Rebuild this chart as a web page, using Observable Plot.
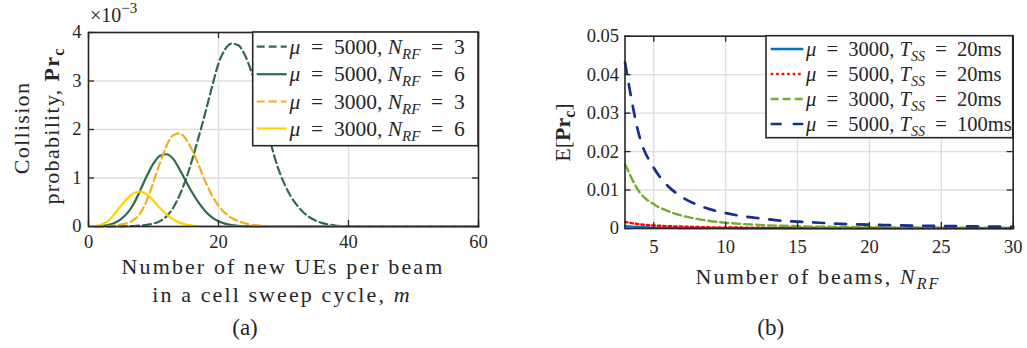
<!DOCTYPE html>
<html><head><meta charset="utf-8">
<script src="https://cdn.jsdelivr.net/npm/d3@7"></script>
<script src="https://cdn.jsdelivr.net/npm/@observablehq/plot@0.6"></script>
<style>
body{margin:0;background:#fff;}
#wrap{position:relative;width:1027px;height:348px;overflow:hidden;background:#fff;}
#wrap svg{position:absolute;top:0;}
</style></head><body><div id="wrap"></div>
<script>
// ---------- data: panel (a) ----------
const mValues = d3.range(1, 61); // number of new UEs per beam, m
// collision probability in units of 1e-3
const mu5000N3 = [0,0,0,0.001,0.002,0.005,0.01,0.02,0.035,0.06,0.11,0.21,0.38,0.64,0.98,1.40,1.87,2.36,2.88,3.36,3.65,3.77,3.74,3.55,3.22,2.80,2.28,1.74,1.27,0.92,0.65,0.45,0.30,0.19,0.12,0.07,0.04,0.02,0.01,0.005,0.002,0,0,0,0,0,0,0,0,0,0,0,0,0,0,0,0,0,0,0];
const mu5000N6 = [0.003,0.01,0.03,0.07,0.15,0.28,0.48,0.76,1.05,1.30,1.46,1.49,1.40,1.18,0.93,0.69,0.48,0.31,0.19,0.11,0.06,0.03,0.015,0.007,0.003,0.001,0,0,0,0,0,0,0,0,0,0,0,0,0,0,0,0,0,0,0,0,0,0,0,0,0,0,0,0,0,0,0,0,0,0];
const mu3000N3 = [0,0.003,0.008,0.02,0.045,0.07,0.14,0.28,0.55,0.92,1.31,1.66,1.88,1.92,1.80,1.56,1.25,0.92,0.64,0.43,0.28,0.18,0.11,0.07,0.04,0.025,0.015,0.008,0.004,0.002,0,0,0,0,0,0,0,0,0,0,0,0,0,0,0,0,0,0,0,0,0,0,0,0,0,0,0,0,0,0];
const mu3000N6 = [0.01,0.04,0.11,0.26,0.43,0.58,0.69,0.72,0.66,0.53,0.38,0.25,0.15,0.08,0.04,0.02,0.01,0.004,0.002,0,0,0,0,0,0,0,0,0,0,0,0,0,0,0,0,0,0,0,0,0,0,0,0,0,0,0,0,0,0,0,0,0,0,0,0,0,0,0,0,0];
const xTicksA = [0, 20, 40, 60];
const yTicksA = [0, 1, 2, 3, 4];

// ---------- data: panel (b) ----------
const beams = d3.range(3, 31); // N_RF
const mu3000T20a = [0.0006,0.0004,0.0002,0.0002,0.0001,0.0001,0.0001,0.0001,0.00008,0.00007,0.00006,0.00005,0.00005,0.00004,0.00004,0.00004,0.00003,0.00003,0.00003,0.00003,0.00003,0.00002,0.00002,0.00002,0.00002,0.00002,0.00002,0.00002];
const mu5000T20 = [0.0017,0.0011,0.0008,0.0006,0.0005,0.0004,0.0003,0.0003,0.00025,0.0002,0.0002,0.0002,0.00018,0.00016,0.00015,0.00014,0.00013,0.00012,0.00011,0.0001,0.0001,0.0001,0.0001,0.0001,0.0001,0.0001,0.0001,0.0001];
const mu3000T20b = [0.0168,0.0095,0.0063,0.0045,0.0033,0.0025,0.0019,0.0015,0.0012,0.0010,0.0008,0.0007,0.0006,0.0005,0.00045,0.0004,0.00037,0.00034,0.00031,0.00029,0.00027,0.00025,0.00024,0.00023,0.00022,0.00021,0.0002,0.0002];
const mu5000T100 = [0.0432,0.0240,0.0158,0.0110,0.0081,0.0062,0.0049,0.0040,0.0033,0.0028,0.0024,0.0020,0.0018,0.0016,0.0014,0.0012,0.0011,0.0010,0.0009,0.0008,0.00075,0.0007,0.00065,0.0006,0.00055,0.0005,0.00048,0.00045];
const xTicksB = [5, 10, 15, 20, 25, 30];
const yTicksB = [0, 0.01, 0.02, 0.03, 0.04, 0.05];

// ---------- style ----------
const FONT = "Liberation Serif, LiberationSerif, Tinos, Times New Roman, Times, Nimbus Roman, FreeSerif, DejaVu Serif, serif";
const INK = "#262626";
const GRID = "#dedede";
const TICK_FS = 18.5;
const TITLE_FS = 22;

const seriesA = [
  {values: mu5000N3, color: "#2f6b4b", dash: "8,4", width: 2.2, mu: "5000", n: "3"},
  {values: mu5000N6, color: "#2f6b4b", dash: null, width: 2.2, mu: "5000", n: "6"},
  {values: mu3000N3, color: "#edb120", dash: "8,4", width: 2.2, mu: "3000", n: "3"},
  {values: mu3000N6, color: "#ffd200", dash: null, width: 2.2, mu: "3000", n: "6"}
];
const seriesB = [
  {values: mu3000T20a, color: "#0072bd", dash: null, width: 2.4, mu: "3000", t: "20ms"},
  {values: mu5000T20, color: "#ff0000", dash: "2.5,3", width: 2.4, mu: "5000", t: "20ms"},
  {values: mu3000T20b, color: "#77ac30", dash: "8,4", width: 2.4, mu: "3000", t: "20ms"},
  {values: mu5000T100, color: "#172f8e", dash: "11,11", width: 2.7, mu: "5000", t: "100ms"}
];

function frameMarks(xt, yt, innerW, innerH) {
  return [
    Plot.tickX(xt, {x: d => d, stroke: INK, strokeWidth: 1.3, insetTop: innerH - 6}),
    Plot.tickX(xt, {x: d => d, stroke: INK, strokeWidth: 1.3, insetBottom: innerH - 6}),
    Plot.tickY(yt, {y: d => d, stroke: INK, strokeWidth: 1.3, insetRight: innerW - 6}),
    Plot.tickY(yt, {y: d => d, stroke: INK, strokeWidth: 1.3, insetLeft: innerW - 6}),
    Plot.frame({stroke: INK, strokeWidth: 1.6})
  ];
}

// ---------- panel (a) ----------
const A = {w: 520, h: 348, ml: 88, mr: 42, mt: 32, mb: 122};
const plotA = Plot.plot({
  width: A.w, height: A.h,
  marginLeft: A.ml, marginRight: A.mr, marginTop: A.mt, marginBottom: A.mb,
  style: {fontFamily: FONT, color: INK, background: "white"},
  x: {domain: [0, 60], ticks: xTicksA},
  y: {domain: [0, 4], ticks: yTicksA},
  marks: [
    Plot.gridX(xTicksA, {stroke: GRID, strokeOpacity: 1, strokeWidth: 1.4}),
    Plot.gridY(yTicksA, {stroke: GRID, strokeOpacity: 1, strokeWidth: 1.4}),
    ...seriesA.map(s => Plot.lineY(s.values, {x: mValues, stroke: s.color, strokeWidth: s.width, strokeDasharray: s.dash, curve: "monotone-x"})),
    Plot.axisX(xTicksA, {tickSize: 0, tickPadding: 8, fontSize: TICK_FS, label: null}),
    Plot.axisY(yTicksA, {tickSize: 0, tickPadding: 7, fontSize: TICK_FS, label: null}),
    ...frameMarks(xTicksA, yTicksA, A.w - A.ml - A.mr, A.h - A.mt - A.mb)
  ]
});
plotA.style.left = "0px";

// ---------- panel (b) ----------
const B = {w: 507, h: 348, ml: 104.5, mr: 14.3, mt: 35.7, mb: 120};
const fmtB = d => d === 0 ? "0" : d3.format(".2f")(d);
const plotB = Plot.plot({
  width: B.w, height: B.h,
  marginLeft: B.ml, marginRight: B.mr, marginTop: B.mt, marginBottom: B.mb,
  style: {fontFamily: FONT, color: INK, background: "white"},
  x: {domain: [3, 30], ticks: xTicksB},
  y: {domain: [0, 0.05], ticks: yTicksB, tickFormat: fmtB},
  marks: [
    Plot.gridX(xTicksB, {stroke: GRID, strokeOpacity: 1, strokeWidth: 1.4}),
    Plot.gridY(yTicksB, {stroke: GRID, strokeOpacity: 1, strokeWidth: 1.4}),
    ...seriesB.map(s => Plot.lineY(s.values, {x: beams, stroke: s.color, strokeWidth: s.width, strokeDasharray: s.dash, curve: "monotone-x"})),
    Plot.axisX(xTicksB, {tickSize: 0, tickPadding: 11, fontSize: TICK_FS, label: null}),
    Plot.axisY(yTicksB, {tickSize: 0, tickPadding: 6, fontSize: TICK_FS, label: null, tickFormat: fmtB}),
    ...frameMarks(xTicksB, yTicksB, B.w - B.ml - B.mr, B.h - B.mt - B.mb)
  ]
});
plotB.style.left = "520px";

const wrap = document.getElementById("wrap");
wrap.appendChild(plotA);
wrap.appendChild(plotB);

// ---------- rich text helper ----------
function rich(g, parts, attrs) {
  const t = g.append("text").attr("fill", INK).attr("text-anchor", "start")
    .style("font-family", FONT).style("white-space", "pre");
  for (const [k, v] of Object.entries(attrs)) t.attr(k, v);
  let shift = 0;
  for (const p of parts) {
    const s = t.append("tspan").text(p.t);
    if (p.it) s.attr("font-style", "italic");
    if (p.b) s.attr("font-weight", "bold");
    if (p.fs) s.attr("font-size", p.fs);
    const target = p.dy || 0;
    if (target !== shift) { s.attr("dy", target - shift); shift = target; }
  }
  return t;
}

// ---------- legend ----------
function legend(svg, box, rows, fs, rowsY, lineX0, lineX1, textX) {
  const g = d3.select(svg).append("g");
  g.append("rect").attr("x", box.x).attr("y", box.y).attr("width", box.w).attr("height", box.h)
    .attr("fill", "white").attr("stroke", INK).attr("stroke-width", 1.6);
  rows.forEach((r, i) => {
    const y = rowsY[i];
    g.append("line").attr("x1", lineX0).attr("x2", lineX1).attr("y1", y).attr("y2", y)
      .attr("stroke", r.color).attr("stroke-width", r.width).attr("stroke-dasharray", r.dash);
    rich(g, r.parts, {x: textX, y: y + fs * 0.33, "font-size": fs});
  });
}
const sp = "\u2002";
legend(plotA, {x: 252.7, y: 32, w: 225.3, h: 113.7},
  seriesA.map(s => ({color: s.color, width: s.width, dash: s.dash, parts: [
    {t: "μ", it: 1}, {t: `${sp}=${sp}${s.mu}, `}, {t: "N", it: 1}, {t: "RF", it: 1, fs: 15, dy: 5}, {t: `${sp}=${sp}${s.n}`}
  ]})), 21.5, [46.7, 74.2, 101.5, 128.5], 256.7, 286.7, 289.5);
legend(plotB, {x: 246, y: 35.7, w: 246.7, h: 102},
  seriesB.map(s => ({color: s.color, width: s.width, dash: s.dash, parts: [
    {t: "μ", it: 1}, {t: `${sp}=${sp}${s.mu}, `}, {t: "T", it: 1}, {t: "SS", it: 1, fs: 14, dy: 5}, {t: `${sp}=${sp}${s.t}`}
  ]})), 20.5, [49, 74, 99, 124], 250.7, 283.3, 286);

// ---------- titles ----------
const gA = d3.select(plotA).append("g");
rich(gA, [{t: "Number of new UEs per beam"}], {x: 283, y: 274, "font-size": TITLE_FS, "text-anchor": "middle", "letter-spacing": 2.1});
rich(gA, [{t: "in a cell sweep cycle, "}, {t: "m", it: 1}], {x: 282, y: 302, "font-size": TITLE_FS, "text-anchor": "middle", "letter-spacing": 2.1});
rich(gA, [{t: "(a)"}], {x: 245, y: 335, "font-size": 23, "text-anchor": "middle"});
rich(gA, [{t: "Collision"}], {transform: "translate(29,128) rotate(-90)", "font-size": TITLE_FS, "text-anchor": "middle", "letter-spacing": 1.3});
rich(gA, [{t: "probability, "}, {t: "Pr", b: 1}, {t: "c", b: 1, fs: 16, dy: 5}],
  {transform: "translate(59,126) rotate(-90)", "font-size": TITLE_FS, "text-anchor": "middle", "letter-spacing": 1.3});
rich(gA, [{t: "×10"}, {t: "−3", fs: 15, dy: -9}], {x: 90, y: 22, "font-size": 20});

const gB = d3.select(plotB).append("g");
rich(gB, [{t: "Number of beams, "}, {t: "N", it: 1}, {t: "RF", it: 1, fs: 16, dy: 5}], {x: 298, y: 284, "font-size": TITLE_FS, "text-anchor": "middle", "letter-spacing": 2.1});
rich(gB, [{t: "(b)"}], {x: 250.7, y: 335, "font-size": 23, "text-anchor": "middle"});
rich(gB, [{t: "E["}, {t: "Pr", b: 1}, {t: "c", b: 1, fs: 16, dy: 5}, {t: "]", dy: 0}],
  {transform: "translate(50,132.5) rotate(-90)", "font-size": TITLE_FS, "text-anchor": "middle"});
</script>
</body></html>
